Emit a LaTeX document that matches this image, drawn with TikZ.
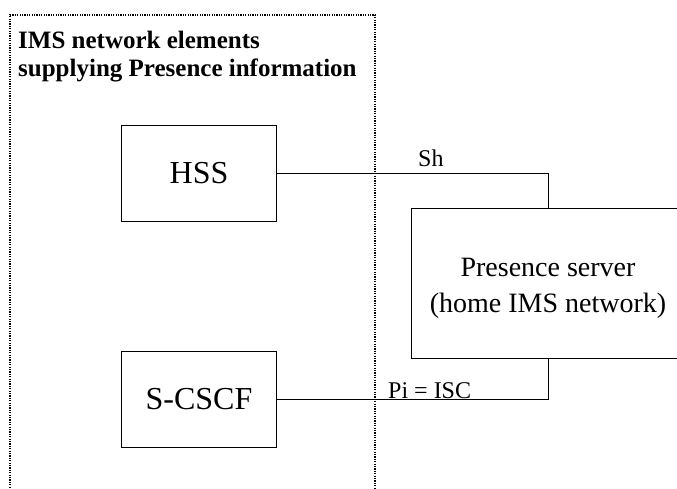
\documentclass[tikz,border=0pt]{standalone}
\usepackage{fontspec}
\setmainfont{Liberation Serif}
\usepackage{tikz}
\usetikzlibrary{positioning}
\usetikzlibrary{calc}
\tikzstyle{element}=[rectangle,draw=black,line width=0.8pt,minimum width=155pt,minimum height=96pt,inner sep=0pt,font=\fontsize{32}{38}\selectfont]
\tikzstyle{server}=[rectangle,draw=black,line width=0.8pt,minimum width=274pt,minimum height=150pt,inner sep=0pt,align=center,font=\fontsize{28}{36}\selectfont]
\tikzstyle{link} = [draw,line width=0.8pt]
\tikzstyle{iface} = [font=\fontsize{24}{26}\selectfont,inner sep=0pt,anchor=base west]
\tikzstyle{imsframe} = [draw,line width=1.3pt,dash pattern=on 1.2pt off 1.2pt]
\tikzset{heading/.style={align=left,inner sep=0pt,anchor=north west,font=\fontsize{25}{28}\selectfont\bfseries}}

\begin{document}
\begin{tikzpicture}[x=1pt,y=-1pt]

 \clip (0,0) rectangle (677,489);

 %IMS domain
 \draw[imsframe] (10,495) -- (10,15) -- (375,15) -- (375,495);
 \node[heading] (title) at (18,31) {IMS network elements\\supplying Presence information};

 %HSS, S-CSCF
   \foreach \x/\y/\name/\label in {199/173/hss/HSS, 199/399/scscf/S-CSCF}
          \node[element] (\name) at (\x,\y) {\label};

 %Presence server
 \node[server] (ps) at (548,283) {\rule{0pt}{29pt}Presence server\\(home IMS network)};

  \foreach \source/ \dest in {hss/ps.north, scscf/ps.south}
         \path[link] (\source) -| (\dest);

 %interfaces
 \node[iface] (sh) at (418,167) {Sh};
 \node[iface] (pi) at (388,398) {Pi = ISC};

\end{tikzpicture}
\end{document}
